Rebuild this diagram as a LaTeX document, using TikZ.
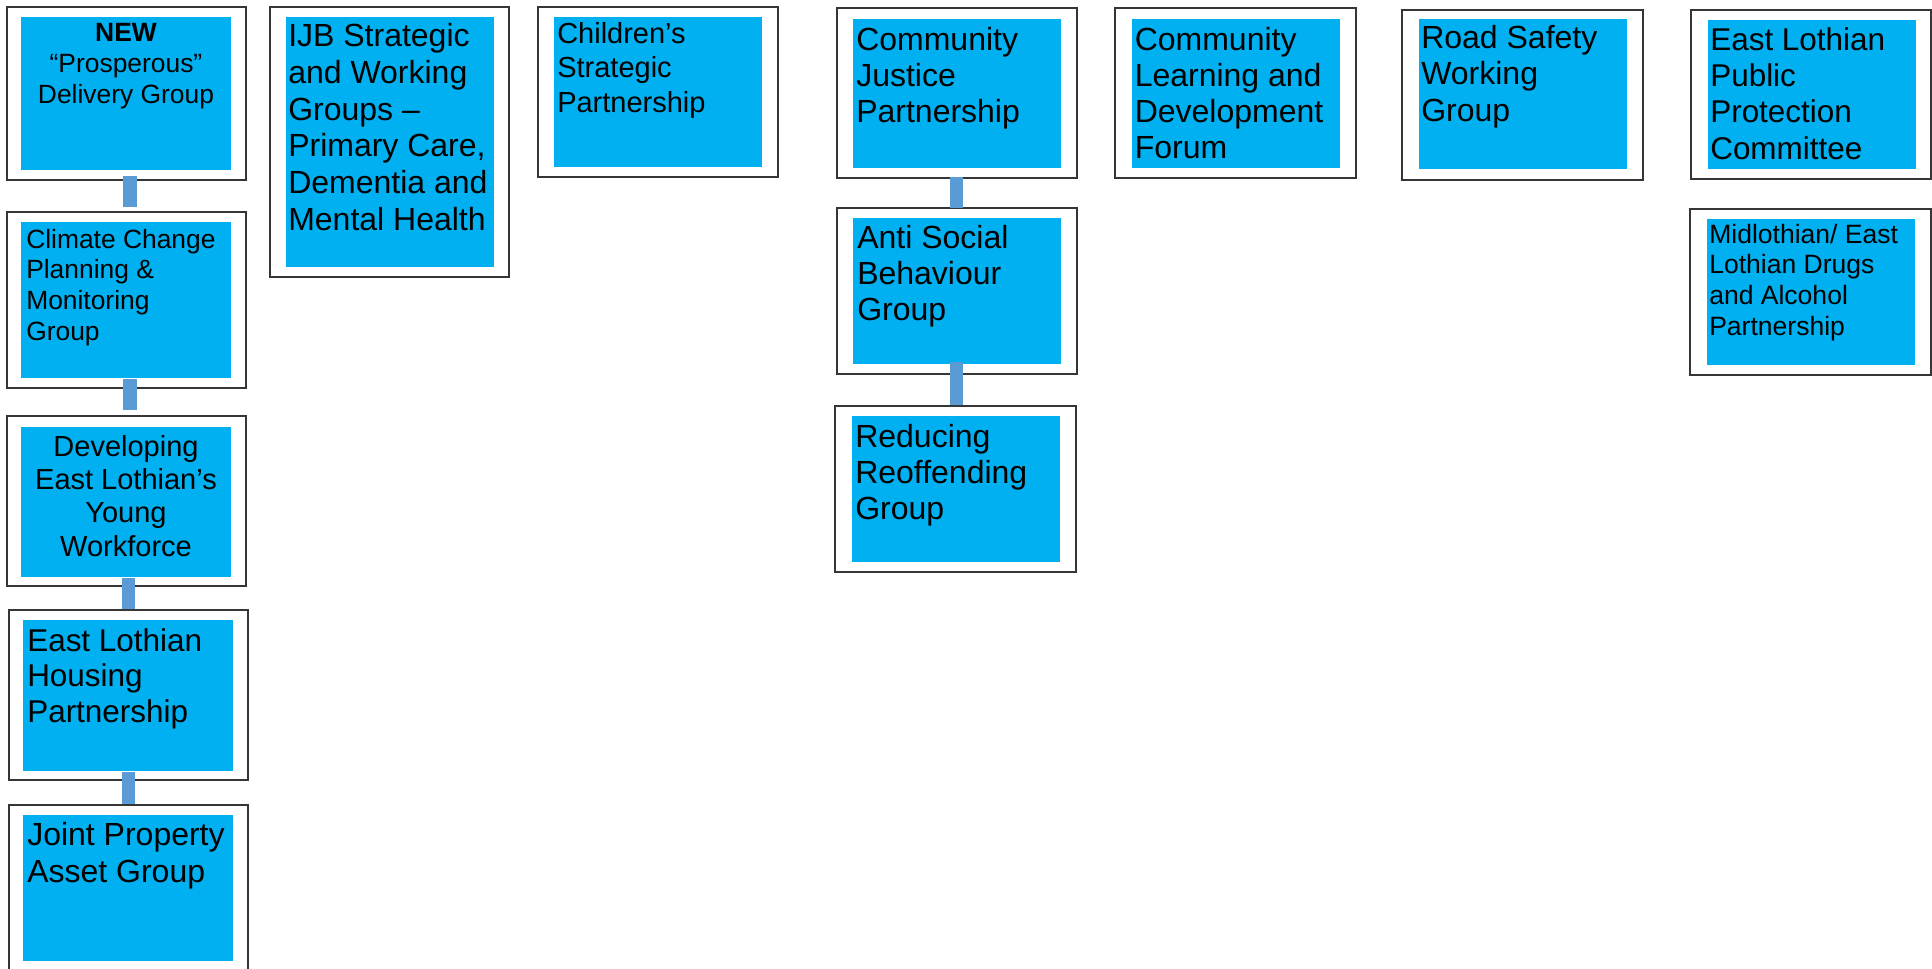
\documentclass[tikz,border=0pt]{standalone}
\usepackage{fontspec}
\setmainfont{Liberation Sans}
\usetikzlibrary{fit,calc}
\definecolor{boxblue}{HTML}{00B0F0}
\definecolor{connblue}{HTML}{5B9BD5}
\definecolor{edgegray}{HTML}{363636}
\newcommand{\mylines}[1]{\begin{tabular}[t]{@{}l@{}}#1\end{tabular}}
\newcommand{\mycentered}[1]{\begin{tabular}[t]{@{}c@{}}#1\end{tabular}}
\tikzset{
  outerbox/.style={draw=edgegray, line width=1.1pt, fill=white, inner sep=0pt},
  innerbox/.style={fill=boxblue, inner sep=0pt},
  conn/.style={draw=connblue, line width=10.2pt},
  lbl/.style={anchor=base west, inner sep=0pt, text=black},
  clbl/.style={anchor=base, inner sep=0pt, text=black},
  fbig/.style={font=\fontsize{24pt}{27.3pt}\selectfont}
}
\begin{document}
\begin{tikzpicture}[x=0.75pt,y=-0.75pt]
\useasboundingbox (0,0) rectangle (1932,968);

% ---------- column 1 ----------
\node[outerbox, fit={(7,7)(246,180)}] (o1) {};
\node[innerbox, fit={(21,17)(231,170)}] (i1) {};
\node[clbl, font=\fontsize{19.8pt}{23.6pt}\selectfont] (t1) at (126,41) {\mycentered{\textbf{NEW}\\“Prosperous”\\Delivery Group}};

\node[outerbox, fit={(7,212)(246,388)}] (o2) {};
\node[innerbox, fit={(21,222)(231,378)}] (i2) {};
\node[lbl, font=\fontsize{19.8pt}{23.1pt}\selectfont] (t2) at (26,248) {\mylines{Climate Change\\Planning \&\\Monitoring\\Group}};

\node[outerbox, fit={(7,416)(246,586)}] (o3) {};
\node[innerbox, fit={(21,427)(231,577)}] (i3) {};
\node[clbl, font=\fontsize{21.75pt}{25pt}\selectfont] (t3) at (126,456) {\mycentered{Developing\\East Lothian’s\\Young\\Workforce}};

\node[outerbox, fit={(9,610)(248,780)}] (o4) {};
\node[innerbox, fit={(23,620)(233,771)}] (i4) {};
\node[lbl, font=\fontsize{23.6pt}{26.9pt}\selectfont] (t4) at (27,651) {\mylines{East Lothian\\Housing\\Partnership}};

\node[outerbox, fit={(9,805)(248,978)}] (o5) {};
\node[innerbox, fit={(23,815)(233,961)}] (i5) {};
\node[lbl, font=\fontsize{24pt}{27.75pt}\selectfont] (t5) at (27,845) {\mylines{Joint Property\\Asset Group}};

% ---------- column 2 ----------
\node[outerbox, fit={(270,7)(509,277)}] (oijb) {};
\node[innerbox, fit={(286,17)(494,267)}] (iijb) {};
\node[lbl, font=\fontsize{24pt}{27.5pt}\selectfont] (tijb) at (288,46.7) {\mylines{IJB Strategic\\and Working\\Groups –\\Primary Care,\\Dementia and\\Mental Health}};

% ---------- column 3 ----------
\node[outerbox, fit={(538,7)(778,177)}] (och) {};
\node[innerbox, fit={(554,17)(762,167)}] (ich) {};
\node[lbl, font=\fontsize{21.75pt}{25.9pt}\selectfont] (tch) at (557,43) {\mylines{Children’s\\Strategic\\Partnership}};

% ---------- column 4 ----------
\node[outerbox, fit={(837,8)(1077,178)}] (ocj) {};
\node[innerbox, fit={(853,19)(1061,168)}] (icj) {};
\node[lbl, fbig] (tcj) at (856,50) {\mylines{Community\\Justice\\Partnership}};

\node[outerbox, fit={(837,208)(1077,374)}] (oasb) {};
\node[innerbox, fit={(853,218)(1061,364)}] (iasb) {};
\node[lbl, fbig] (tasb) at (857,248) {\mylines{Anti Social\\Behaviour\\Group}};

\node[outerbox, fit={(835,406)(1076,572)}] (orr) {};
\node[innerbox, fit={(852,416)(1060,562)}] (irr) {};
\node[lbl, fbig] (trr) at (855,447) {\mylines{Reducing\\Reoffending\\Group}};

% ---------- column 5 ----------
\node[outerbox, fit={(1115,8)(1356,178)}] (ocld) {};
\node[innerbox, fit={(1132,19)(1340,168)}] (icld) {};
\node[lbl, font=\fontsize{24pt}{27pt}\selectfont] (tcld) at (1134.5,50) {\mylines{Community\\Learning and\\Development\\Forum}};

% ---------- column 6 ----------
\node[outerbox, fit={(1402,10)(1643,180)}] (ors) {};
\node[innerbox, fit={(1419,19)(1627,169)}] (irs) {};
\node[lbl, fbig] (trs) at (1421,48.5) {\mylines{Road Safety\\Working\\Group}};

% ---------- column 7 ----------
\node[outerbox, fit={(1691,10)(1931,179)}] (opp) {};
\node[innerbox, fit={(1708,20)(1916,169)}] (ipp) {};
\node[lbl, font=\fontsize{23.6pt}{27.3pt}\selectfont] (tpp) at (1710,50) {\mylines{East Lothian\\Public\\Protection\\Committee}};

\node[outerbox, fit={(1690,209)(1931,375)}] (omd) {};
\node[innerbox, fit={(1707,219)(1915,365)}] (imd) {};
\node[lbl, font=\fontsize{19.9pt}{23pt}\selectfont] (tmd) at (1709,243) {\mylines{Midlothian/ East\\Lothian Drugs\\and Alcohol\\Partnership}};

% ---------- connectors ----------
\draw[conn] ($(i1.south)+(4,6)$) -- ($(o2.north)+(3.5,-4)$);
\draw[conn] ($(i2.south)+(4,1)$) -- ($(o3.north)+(3.5,-5)$);
\draw[conn, line width=9.75pt] ($(i3.south)+(2.5,1)$) -- (o4.north);
\draw[conn, line width=9.75pt] ($(i4.south)+(0.5,1)$) -- (o5.north);
\draw[conn, line width=9.75pt] ($(icj.south)+(-0.5,9)$) -- ($(oasb.north)+(-0.5,1)$);
\draw[conn, line width=9.75pt] ($(iasb.south)+(-0.5,-2)$) -- ($(orr.north)+(1,0)$);
\end{tikzpicture}
\end{document}
